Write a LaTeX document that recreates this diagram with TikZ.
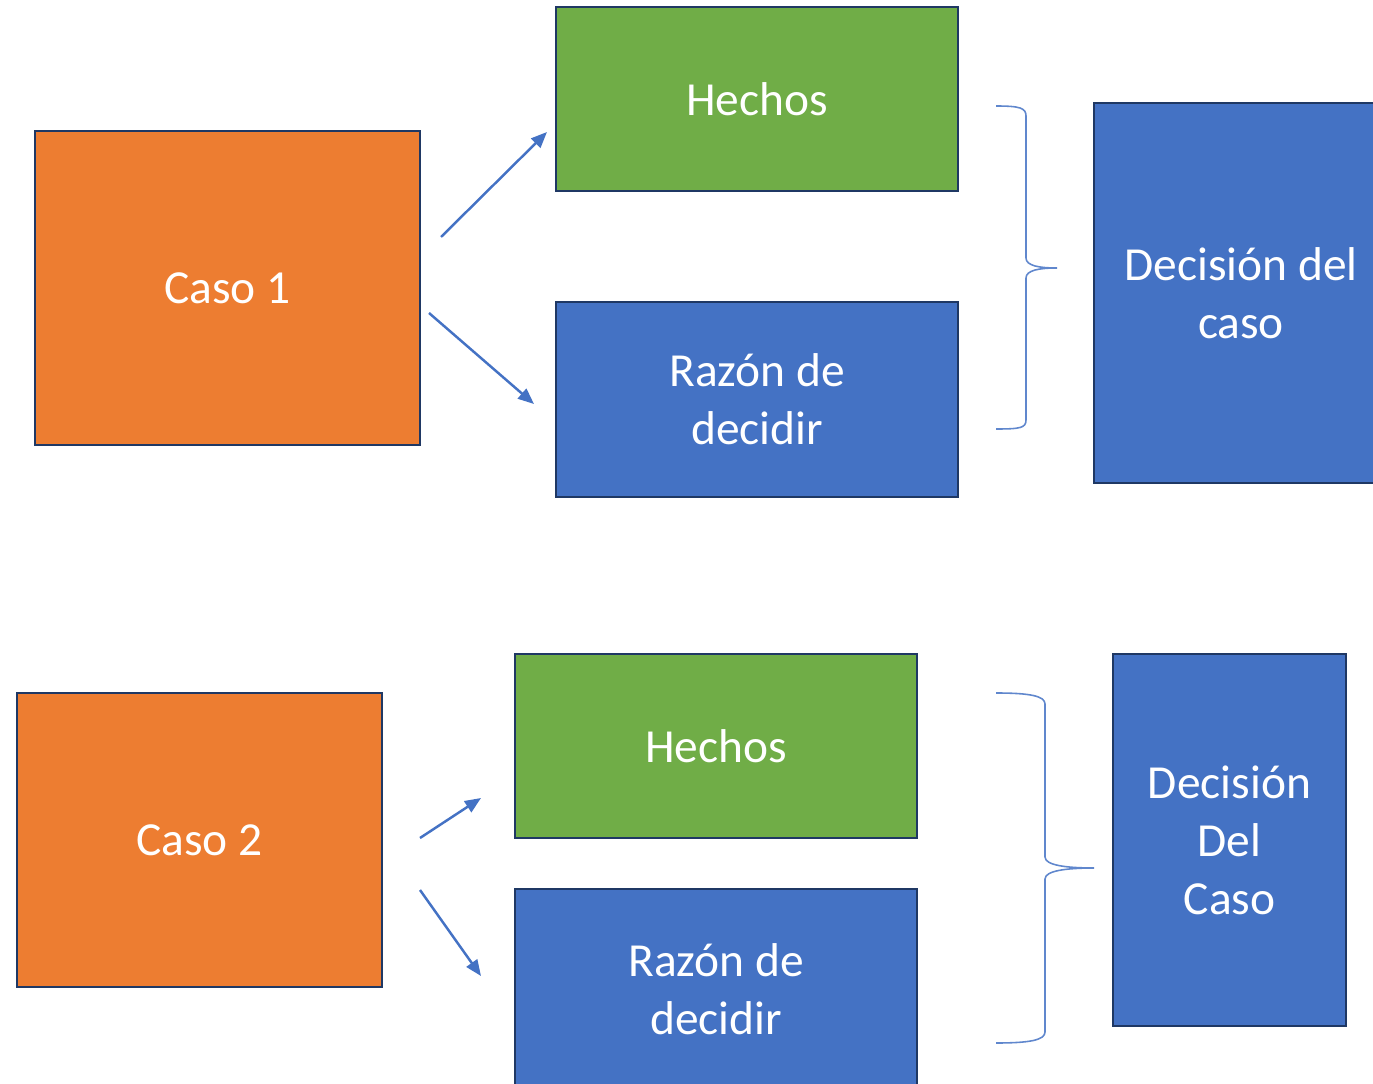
\documentclass[tikz,border=0pt]{standalone}
\usepackage{fontspec}
\setmainfont{Carlito}
\usepackage{xcolor}
\usepackage{tikz}
\usetikzlibrary{arrows.meta,calc}
\definecolor{cOrange}{HTML}{ED7D31}
\definecolor{cGreen}{HTML}{70AD47}
\definecolor{cBlue}{HTML}{4472C4}
\definecolor{cEdge}{HTML}{1F3864}

\begin{document}
\begin{tikzpicture}[x=0.02cm,y=-0.02cm]
  \tikzstyle{box} = [draw=cEdge,line width=1.6pt,inner sep=0pt,align=center,text=white,font=\fontsize{27}{33}\selectfont]
  \tikzstyle{caso} = [box,fill=cOrange]
  \tikzstyle{hechos} = [box,fill=cGreen]
  \tikzstyle{razon} = [box,fill=cBlue]
  \tikzstyle{arrow} = [draw=cBlue,line width=1.4pt,-{Triangle[length=0.32cm,width=0.26cm]}]
  \tikzstyle{brace} = [draw=cBlue!85,line width=0.9pt]
  \useasboundingbox (0,0) rectangle (1373,1084);
  %
  % First case.
  \node[caso,minimum width=7.7cm,minimum height=6.28cm] (caso1) at (227.5,288) {Caso 1};
  \node[hechos,minimum width=8.04cm,minimum height=3.68cm] (hechos1) at (757,99) {Hechos};
  \node[razon,minimum width=8.04cm,minimum height=3.9cm] (razon1) at (757,399.5) {Razón de\\decidir};
  \node[razon,minimum width=5.88cm,minimum height=7.6cm] (decision1) at (1241,293) {Decisión del\\caso};
  \coordinate (a1s) at (441,237); \coordinate (a1e) at (547,132);
  \coordinate (b1s) at (429,313); \coordinate (b1e) at (534,404);
  \draw[arrow] (a1s) -- (a1e);
  \draw[arrow] (b1s) -- (b1e);
  \draw[brace] (996,106) .. controls (1020,106) and (1026,108) .. (1026,116) -- (1026,258)
    .. controls (1026,266) and (1040,268) .. (1057,268)
    .. controls (1040,268) and (1026,270) .. (1026,278) -- (1026,420)
    .. controls (1026,428) and (1020,429) .. (996,429);
  %
  % Second case.
  \node[caso,minimum width=7.3cm,minimum height=5.88cm] (caso2) at (199.5,840) {Caso 2};
  \node[hechos,minimum width=8.04cm,minimum height=3.68cm] (hechos2) at (716,746) {Hechos};
  \node[razon,minimum width=8.04cm,minimum height=4.0cm] (razon2) at (716,989) {Razón de\\decidir};
  \node[razon,minimum width=4.66cm,minimum height=7.44cm] (decision2) at (1229.5,840) {Decisión\\Del\\Caso};
  \coordinate (a2s) at (420,838); \coordinate (a2e) at (481,798);
  \coordinate (b2s) at (420,890); \coordinate (b2e) at (481,976);
  \draw[arrow] (a2s) -- (a2e);
  \draw[arrow] (b2s) -- (b2e);
  \draw[brace] (996,693) .. controls (1030,693) and (1045,696) .. (1045,704) -- (1045,857)
    .. controls (1045,865) and (1065,868) .. (1094,868)
    .. controls (1065,868) and (1045,871) .. (1045,879) -- (1045,1032)
    .. controls (1045,1040) and (1030,1043) .. (996,1043);
\end{tikzpicture}
\end{document}
